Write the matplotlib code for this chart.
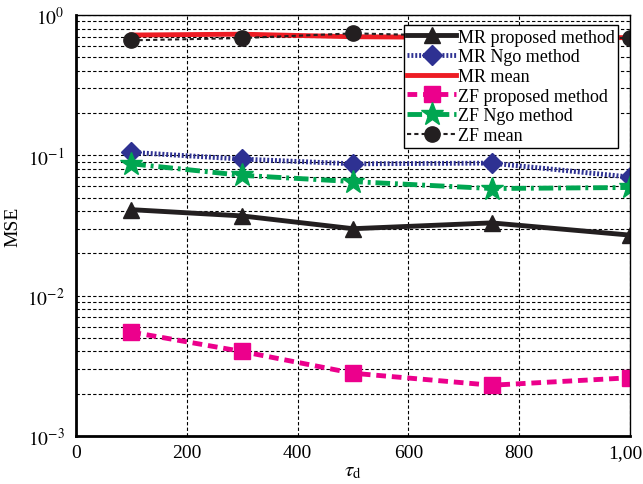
import numpy as np
import matplotlib.pyplot as plt
from matplotlib.ticker import FuncFormatter, LogLocator

plt.rcParams['font.family'] = ['Liberation Serif', 'DejaVu Serif']
plt.rcParams['mathtext.fontset'] = 'stix'

tau_d = [100, 300, 500, 750, 1000]
mr_proposed = [0.041, 0.037, 0.030, 0.033, 0.027]
mr_ngo = [0.105, 0.094, 0.087, 0.088, 0.070]
mr_mean = [0.72, 0.73, 0.70, 0.69, 0.69]
zf_proposed = [0.0055, 0.0040, 0.0028, 0.0023, 0.0026]
zf_ngo = [0.087, 0.072, 0.065, 0.058, 0.059]
zf_mean = [0.66, 0.685, 0.74, 0.70, 0.685]

fig = plt.figure(figsize=(6.43, 4.85), dpi=100)
ax = fig.add_axes([0.118, 0.099, 0.862, 0.868])

ax.plot(tau_d, mr_proposed, color='#231f20', lw=3.5, marker='^', ms=12,
        label='MR proposed method')
ax.plot(tau_d, mr_ngo, color='#2e3192', lw=3.5, ls=(0, (0.4, 0.4)), marker='D', ms=10,
        markerfacecolor='#2e3192', label='MR Ngo method')
ax.plot(tau_d, mr_mean, color='#ed1c24', lw=3.5, label='MR mean')
ax.plot(tau_d, zf_proposed, color='#ec008c', lw=3.5, ls=(0, (2, 1.2)), marker='s', ms=11,
        label='ZF proposed method')
ax.plot(tau_d, zf_ngo, color='#00a651', lw=3.5, ls=(0, (3, 1, 0.6, 1)), marker='*', ms=17,
        label='ZF Ngo method')
ax.plot(tau_d, zf_mean, color='#231f20', lw=1.5, ls=(0, (2, 1.5)), marker='o', ms=11,
        label='ZF mean')

ax.set_yscale('log')
ax.set_xlim(0, 1000)
ax.set_ylim(1e-3, 1)
ax.set_xticks([0, 200, 400, 600, 800, 1000])
ax.xaxis.set_major_formatter(FuncFormatter(lambda v, p: f'{int(v):,}'))
ax.yaxis.set_major_locator(LogLocator(base=10))
ax.yaxis.set_minor_locator(LogLocator(base=10, subs=np.arange(2, 10)))
ax.yaxis.set_major_formatter(FuncFormatter(lambda v, p: r'$10^{%d}$' % round(np.log10(v))))
ax.tick_params(axis='both', labelsize=14, direction='in', length=0)
ax.tick_params(axis='x', pad=6)
ax.tick_params(axis='y', pad=8)
ax.tick_params(axis='y', which='minor', length=0)

ax.grid(True, which='major', color='black', ls=(0, (3, 2)), lw=0.8)
ax.grid(True, which='minor', axis='y', color='black', ls=(0, (3, 2)), lw=0.8)

for s in ['left', 'bottom']:
    ax.spines[s].set_linewidth(2)
for s in ['top', 'right']:
    ax.spines[s].set_linewidth(1)

ax.set_xlabel(r'$\tau_{\mathrm{d}}$', fontsize=15, labelpad=0)
ax.set_ylabel('MSE', fontsize=14)

leg = ax.legend(loc='upper right', bbox_to_anchor=(0.985, 0.985), fontsize=13,
                frameon=True, fancybox=False, edgecolor='black', framealpha=1,
                handlelength=2.7, handletextpad=0.1, labelspacing=0.15,
                borderpad=0.2, borderaxespad=0.2)
leg.get_frame().set_linewidth(1)

fig.savefig('out.png', dpi=100)
